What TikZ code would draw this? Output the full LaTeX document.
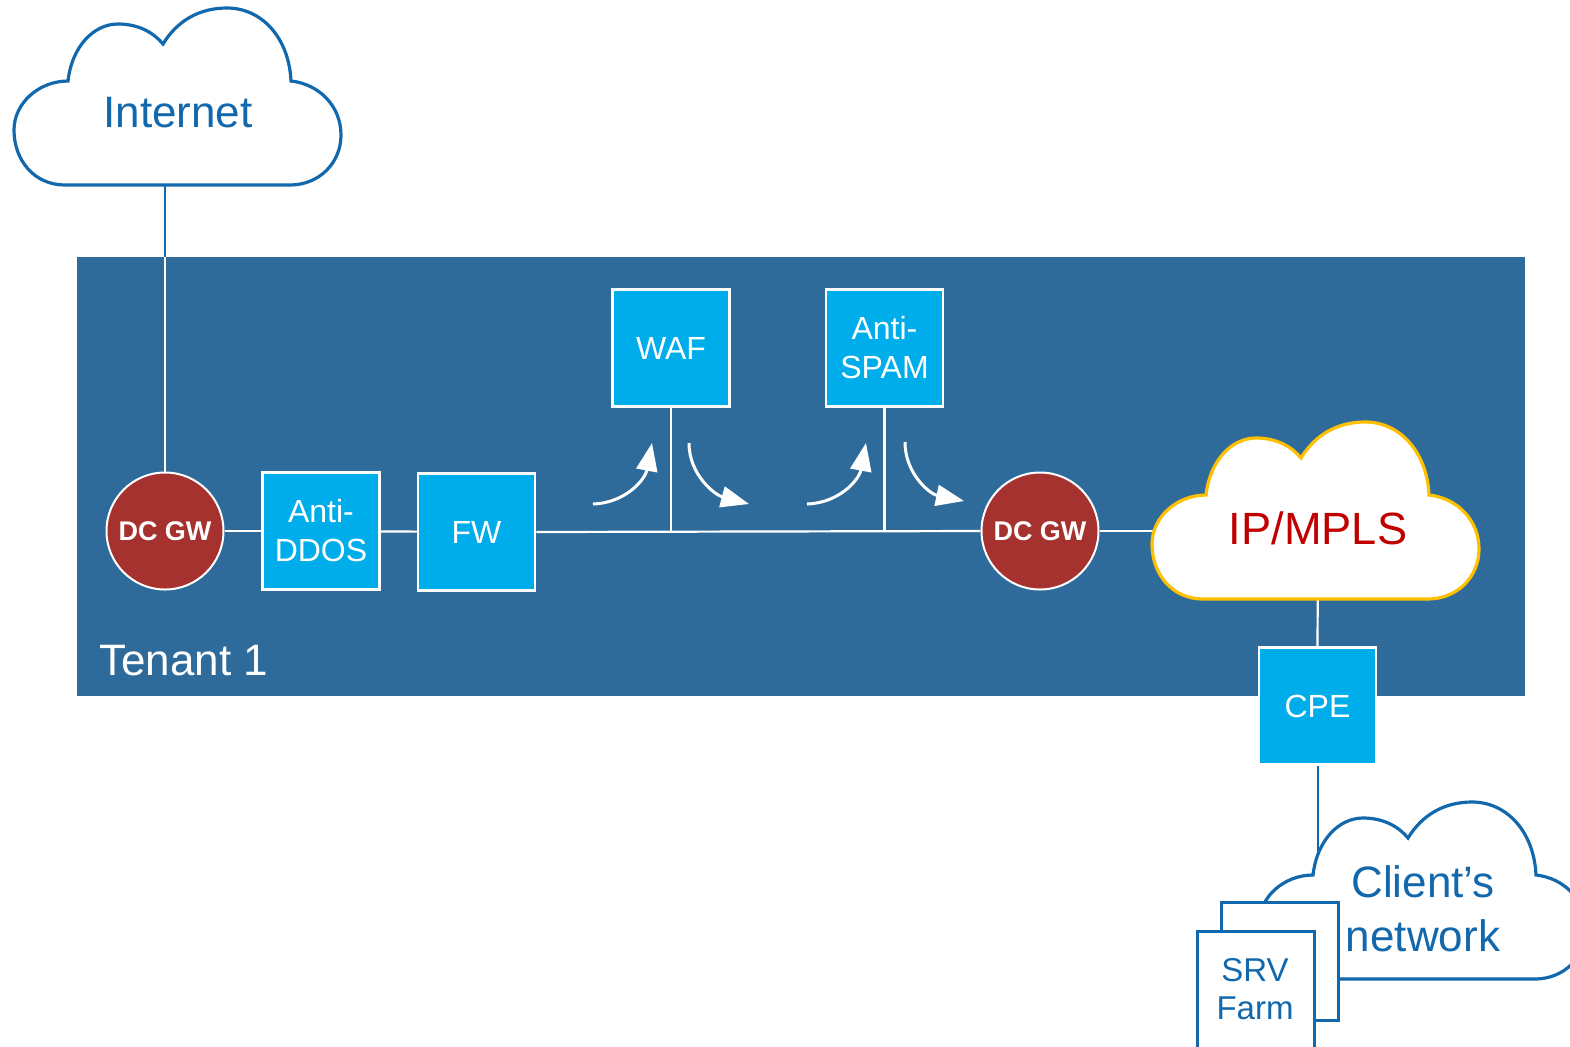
\documentclass[tikz,border=0pt]{standalone}
\usepackage{fontspec}
\setmainfont{Liberation Sans}
\usetikzlibrary{arrows.meta}
\definecolor{tenantc}{RGB}{46,107,154}
\definecolor{boxc}{RGB}{0,173,235}
\definecolor{gwred}{RGB}{165,50,46}
\definecolor{cloudblue}{RGB}{18,104,172}
\definecolor{goldc}{RGB}{255,192,0}
\definecolor{mplsred}{RGB}{192,0,0}
\pgfdeclarelayer{back}
\pgfdeclarelayer{mid}
\pgfsetlayers{back,mid,main}
\tikzset{
  cloudpic/.pic={\path[pic actions] (51,177) .. controls (20,177) and (0,152) .. (0,122)
     .. controls (0,95) and (25,73) .. (54,73)
     .. controls (58,38) and (80,16) .. (104,16)
     .. controls (125,16) and (140,25) .. (149,36)
     .. controls (163,13) and (185,0) .. (213,0)
     .. controls (248,0) and (275,30) .. (277,73)
     .. controls (305,76) and (327,98) .. (327,127)
     .. controls (327,155) and (305,177) .. (276,177) -- cycle;},
  svc/.style={fill=boxc, draw=white, line width=1.25pt, minimum width=58.5pt, minimum height=58.5pt,
     text=white, font=\fontsize{16}{19.5}\selectfont, align=center, inner sep=0pt},
  gw/.style={circle, fill=gwred, draw=white, line width=1pt, minimum size=58.5pt, inner sep=0pt,
     text=white, font=\fontsize{13.5}{16}\selectfont\bfseries},
  wline/.style={draw=white, line width=1.1pt},
  bline/.style={draw=cloudblue, line width=1pt},
  flowarr/.style={draw=white, line width=1.5pt, -{Triangle[length=14pt,width=10.5pt]}},
  cloudtxt/.style={text=cloudblue, font=\fontsize{22}{27}\selectfont, align=center, inner sep=0pt},
}
\begin{document}
\begin{tikzpicture}[x=0.5pt, y=-0.5pt]
\useasboundingbox (0,0) rectangle (1570,1046);
\clip (0,0) rectangle (1570,1046);
% tenant area
\begin{pgfonlayer}{back}
\node[fill=tenantc, draw=none, inner sep=0pt, outer sep=0pt, minimum width=724pt, minimum height=219.5pt, anchor=north west] (tenant) at (77,257) {};
\end{pgfonlayer}
\node[anchor=base west, text=white, font=\fontsize{22}{26}\selectfont, inner sep=0pt] (tlabel) at (99,675) {Tenant 1};

% anchor coordinates
\coordinate (inetb) at (165,185);
\coordinate (rtop) at (165,257);
\coordinate (mplsc) at (1318,540);
\coordinate (clientc) at (1420,900);

% nodes
\node[gw] (gw1) at (165,531) {DC GW};
\node[svc] (ddos) at (321,531) {Anti-\\DDOS};
\node[svc] (fw) at (476.5,532) {FW};
\node[svc] (waf) at (671,348) {WAF};
\node[svc] (spam) at (884.5,348) {Anti-\\SPAM};
\node[gw] (gw2) at (1040,531) {DC GW};
\node[svc] (cpe) at (1317.5,706) {CPE};

% connectors (drawn under nodes)
\begin{pgfonlayer}{mid}
\draw[bline] (inetb) -- (rtop);
\draw[wline] (rtop) -- (gw1.north);
\draw[wline] (gw1) -- (ddos);
\draw[wline] (ddos) -- (fw);
\draw[wline] (fw.east) -- (gw2.west);
\draw[wline] (waf.south) -- (waf.south |- fw.east);
\draw[wline] (spam.south) -- (spam.south |- fw.east);
\draw[wline] (gw2.east) -- (mplsc |- gw2.east) -- (mplsc);
\draw[wline] (mplsc) -- (cpe.north);
\draw[bline] (cpe.south) -- (cpe.south |- clientc);
\end{pgfonlayer}

% clouds
\pic[draw=cloudblue, fill=white, line width=1.6pt] at (14,8) {cloudpic};
\node[cloudtxt] (internet) at (178,113) {Internet};
\pic[draw=goldc, fill=white, line width=1.6pt] at (1152,422) {cloudpic};
\node[text=mplsred, font=\fontsize{22.6}{27}\selectfont, inner sep=0pt] (mpls) at (1318,528) {IP/MPLS};
\pic[draw=cloudblue, fill=white, line width=1.6pt] at (1259,802) {cloudpic};
\node[cloudtxt] (client) at (1423,909) {Client’s\\network};

% server farm
\node[draw=cloudblue, fill=white, line width=1.5pt, minimum width=58.5pt, minimum height=59pt, inner sep=0pt] (srvback) at (1280,961) {};
\node[draw=cloudblue, fill=white, line width=1.5pt, minimum width=58.5pt, minimum height=62pt, inner sep=0pt, anchor=north] (srv) at (1255.5,930) {};
\node[text=cloudblue, font=\fontsize{16.5}{19}\selectfont, align=center, inner sep=0pt] (srvtxt) at (1255,989) {SRV\\Farm};

% flow arrows
\coordinate (a1s) at (593,504); \coordinate (a1e) at (652,443);
\coordinate (a2s) at (689,443); \coordinate (a2e) at (749,504);
\coordinate (a3s) at (807,504); \coordinate (a3e) at (866,443);
\coordinate (a4s) at (905,442); \coordinate (a4e) at (964,501);
\draw[flowarr] (a1s) .. controls (625,503) and (645,480) .. (a1e);
\draw[flowarr] (a2s) .. controls (689,475) and (715,495) .. (a2e);
\draw[flowarr] (a3s) .. controls (839,503) and (859,480) .. (a3e);
\draw[flowarr] (a4s) .. controls (905,474) and (930,494) .. (a4e);
\end{tikzpicture}
\end{document}
